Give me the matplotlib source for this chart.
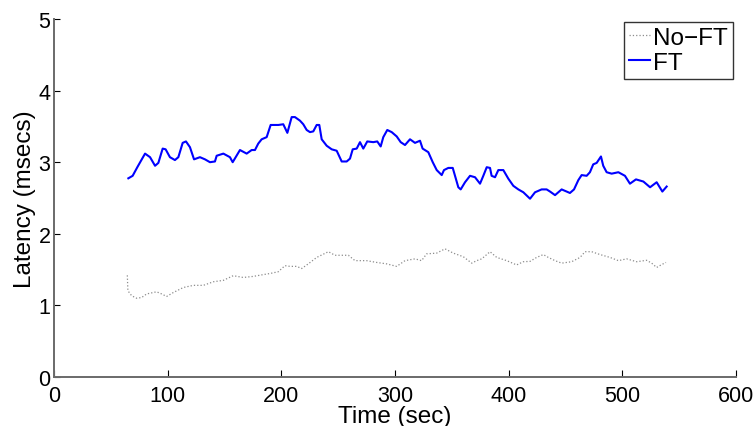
import matplotlib
matplotlib.use("Agg")
import matplotlib.pyplot as plt

ft_x = [65.4, 69.2, 73.3, 80.1, 84.5, 88.9, 91.8, 95.6, 98.2, 102, 106.4, 109.4, 113.2, 116.1,
        119.6, 123.2, 128.4, 132.8, 137.2, 141.6, 143.1, 149, 154.8, 157.2, 163.6, 169.5, 173.9,
        176.8, 179.7, 182.7, 187.1, 190.6, 197.4, 201.7, 205.3, 209.1, 212, 216.4, 219.3, 222.3,
        225.2, 228.1, 231.1, 233.4, 235.5, 239.9, 244.3, 248.7, 253.1, 257.5, 260.4, 262.8, 266.3,
        269.2, 272.1, 275.6, 280.9, 284.4, 287.4, 289.7, 293.2, 297.1, 301.5, 305, 308.8, 313.2,
        317.6, 322, 324.3, 329.3, 333.2, 336.7, 341.1, 343.1, 346.9, 350.8, 352.8, 355.7, 357.8,
        361.6, 366, 370.4, 374.8, 377.7, 380.7, 383.6, 385, 388, 390.9, 395.3, 399.7, 404.1, 408.5,
        412.9, 418.8, 423.2, 429, 433.4, 436.4, 440.8, 446.6, 451, 453.9, 457.5, 461.3, 464.2,
        468.6, 471.5, 474.4, 477.4, 481.2, 483.2, 486.2, 490.6, 496.5, 502.3, 506.7, 512, 518.5,
        524.4, 530.2, 535.2, 539]
ft_y = [2.775, 2.81, 2.93, 3.12, 3.07, 2.95, 2.99, 3.19, 3.18, 3.07, 3.03, 3.07, 3.27, 3.29,
        3.21, 3.04, 3.07, 3.04, 3.00, 3.01, 3.09, 3.12, 3.07, 3.00, 3.17, 3.12, 3.17, 3.17, 3.26,
        3.32, 3.35, 3.52, 3.52, 3.53, 3.41, 3.63, 3.63, 3.58, 3.53, 3.45, 3.42, 3.43, 3.52, 3.52,
        3.32, 3.23, 3.18, 3.16, 3.01, 3.01, 3.05, 3.18, 3.19, 3.28, 3.19, 3.29, 3.28, 3.29, 3.22,
        3.35, 3.45, 3.42, 3.36, 3.28, 3.24, 3.32, 3.27, 3.30, 3.19, 3.14, 3.00, 2.89, 2.82, 2.89,
        2.92, 2.92, 2.81, 2.65, 2.62, 2.72, 2.81, 2.79, 2.70, 2.81, 2.93, 2.92, 2.81, 2.79, 2.89,
        2.89, 2.77, 2.67, 2.62, 2.58, 2.49, 2.58, 2.62, 2.62, 2.59, 2.54, 2.62, 2.59, 2.57, 2.62,
        2.75, 2.82, 2.81, 2.86, 2.97, 2.99, 3.08, 2.95, 2.86, 2.84, 2.86, 2.81, 2.70, 2.76, 2.73,
        2.65, 2.72, 2.59, 2.66]

noft_x = [64.5, 65.0, 68.3, 72.7, 77.1, 81.5, 90.3, 94.7, 99.1, 105, 113.8, 122.6, 131.4, 140.2,
          149, 157.7, 166.5, 175.3, 184.1, 189.9, 197.3, 203.2, 207.6, 213.5, 217.9, 223.7, 231.1,
          241.4, 247.2, 259, 264.8, 275, 283.9, 292.7, 301.5, 308.8, 317.6, 323.4, 327.8, 336.6,
          344, 351.3, 360.1, 367.5, 371.9, 376.3, 383.6, 389.5, 398.3, 407, 412.9, 418.8, 424.6,
          430.5, 434.9, 440.8, 446.6, 455.4, 462.8, 467.2, 473, 480.4, 489.2, 496.5, 503.8, 512.6,
          521.4, 525.8, 530.2, 534.6, 538.4]
noft_y = [1.42, 1.205, 1.135, 1.10, 1.11, 1.16, 1.19, 1.16, 1.125, 1.18, 1.25, 1.28, 1.28, 1.33,
          1.35, 1.415, 1.39, 1.405, 1.43, 1.445, 1.47, 1.555, 1.545, 1.545, 1.515, 1.58, 1.67,
          1.75, 1.70, 1.70, 1.625, 1.625, 1.60, 1.58, 1.545, 1.625, 1.65, 1.625, 1.72, 1.73, 1.79,
          1.73, 1.68, 1.59, 1.625, 1.65, 1.75, 1.67, 1.625, 1.565, 1.61, 1.615, 1.67, 1.71, 1.67,
          1.625, 1.59, 1.61, 1.67, 1.75, 1.75, 1.71, 1.67, 1.625, 1.65, 1.61, 1.63, 1.59, 1.53,
          1.57, 1.60]

x_ticks = [0, 100, 200, 300, 400, 500, 600]
y_ticks = [0, 1, 2, 3, 4, 5]
series_labels = ["No\u2212FT", "FT"]
x_label = "Time (sec)"
y_label = "Latency (msecs)"

plt.rcParams['font.family'] = ['Liberation Sans', 'DejaVu Sans']

fig = plt.figure(figsize=(7.56, 4.27), dpi=100)
ax = fig.add_axes([54 / 756, 1 - 378 / 427, 682 / 756, 358 / 427])

ax.plot(noft_x, noft_y, linestyle=':', color='#8c8c8c', linewidth=0.9, label=series_labels[0])
ax.plot(ft_x, ft_y, linestyle='-', color='#0000ff', linewidth=1.5, label=series_labels[1])

ax.set_xlim(0, 600)
ax.set_ylim(0, 5)
ax.set_xticks(x_ticks)
ax.set_yticks(y_ticks)
ax.set_xticklabels([str(t) for t in x_ticks])
ax.set_yticklabels([str(t) for t in y_ticks])

for s in ['top', 'right']:
    ax.spines[s].set_visible(False)
for s in ['left', 'bottom']:
    ax.spines[s].set_color('#6a6a6a')
    ax.spines[s].set_linewidth(1.4)

ax.tick_params(axis='x', direction='in', length=5, width=0.8, colors='black', labelsize=15.5, pad=6)
ax.tick_params(axis='y', direction='in', length=4.5, width=0.8, colors='black', labelsize=15.5, pad=2.5)

ax.set_xlabel(x_label, fontsize=17.5, labelpad=-1)
ax.set_ylabel(y_label, fontsize=17.5, labelpad=2)

leg = ax.legend(loc='upper right', bbox_to_anchor=((733 - 54) / 682, (378 - 23) / 358),
                borderaxespad=0, fontsize=17.5, frameon=True, fancybox=False,
                handlelength=0.85, handletextpad=0.15, labelspacing=0.12, borderpad=0.2)
leg.get_frame().set_edgecolor('black')
leg.get_frame().set_linewidth(1.0)

fig.savefig('out.png', dpi=100)
